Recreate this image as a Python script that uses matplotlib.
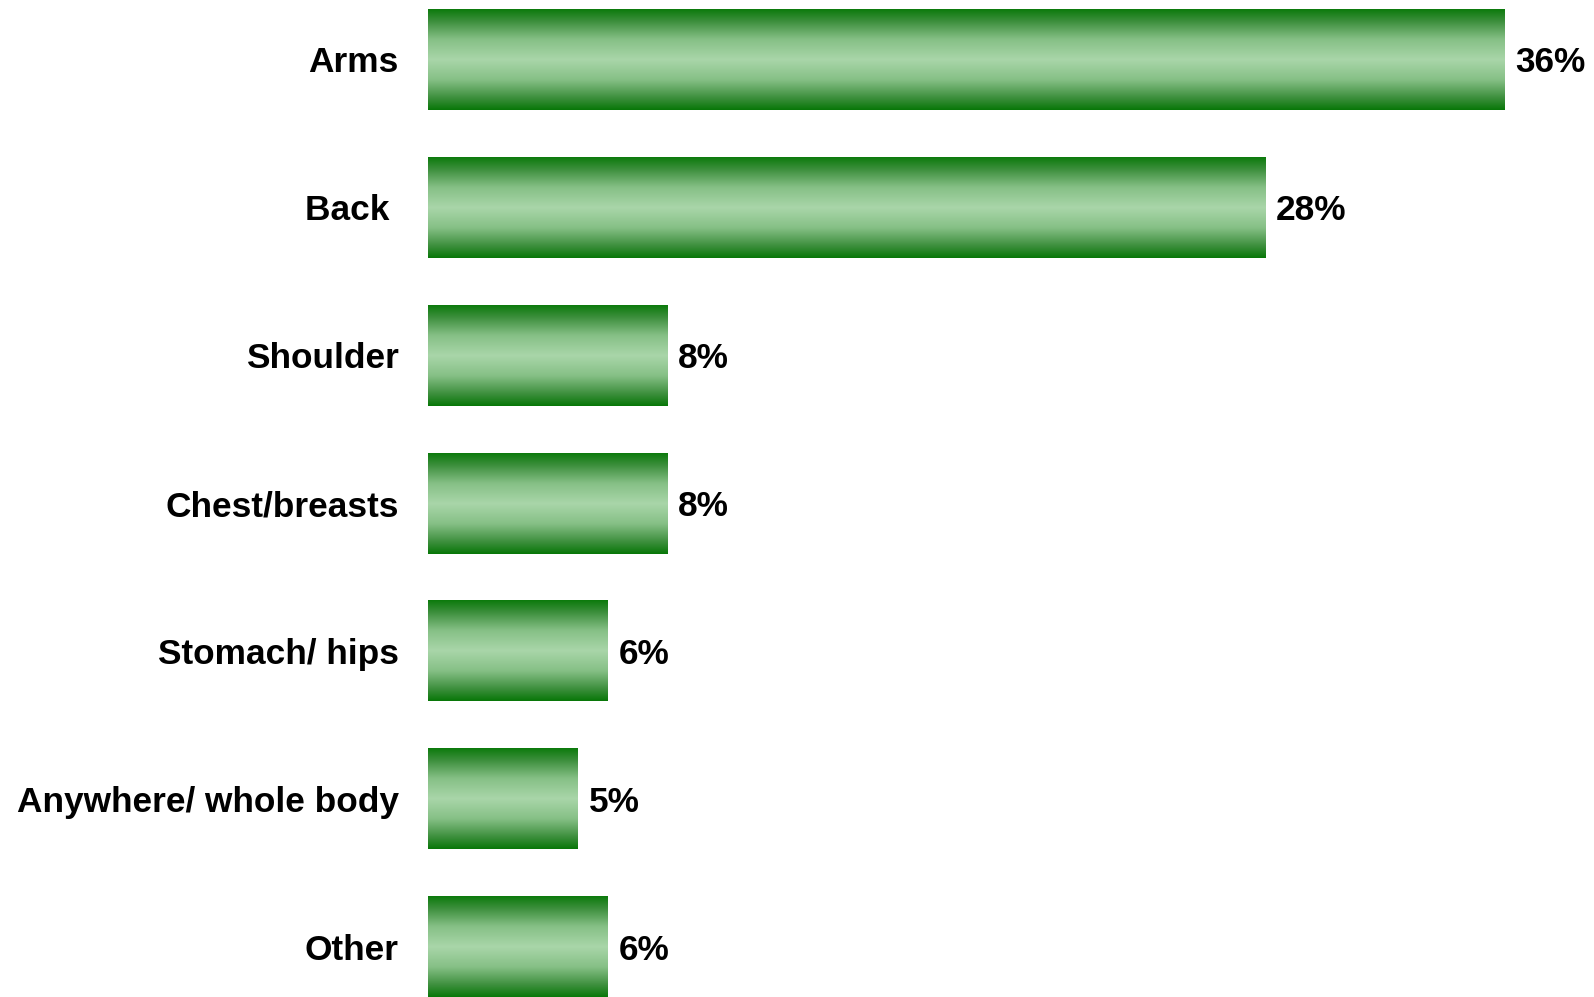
import numpy as np
import matplotlib
matplotlib.use("Agg")
import matplotlib.pyplot as plt
from matplotlib.colors import LinearSegmentedColormap

# data
categories = ["Arms", "Back ", "Shoulder", "Chest/breasts", "Stomach/ hips", "Anywhere/ whole body", "Other"]
values = [36, 28, 8, 8, 6, 5, 6]
value_labels = ["36%", "28%", "8%", "8%", "6%", "5%", "6%"]

plt.rcParams['font.family'] = ['Liberation Sans', 'DejaVu Sans']

fig = plt.figure(figsize=(15.94, 9.97), dpi=100)
ax = fig.add_axes([428 / 1594, 0, 1 - 428 / 1594, 1])

pos = np.arange(len(categories))
bars = ax.barh(pos, values, height=0.68, color="none", edgecolor="none")

# green -> light -> green gradient inside each bar
cmap = LinearSegmentedColormap.from_list("grn", [(0.0, "#0c7a0c"), (0.12, "#3d8f3d"),
                                                 (0.3, "#86c086"), (0.5, "#a9d6a9"),
                                                 (0.7, "#86c086"), (0.88, "#3d8f3d"),
                                                 (1.0, "#087708")])
grad = np.linspace(0, 1, 256).reshape(-1, 1)
for b in bars:
    x0, y0 = b.get_x(), b.get_y()
    w, h = b.get_width(), b.get_height()
    ax.imshow(grad, extent=[x0, x0 + w, y0 + h, y0], cmap=cmap, aspect="auto",
              interpolation="bilinear", zorder=2)

for i in range(len(values)):
    ax.text(values[i] + 0.37, pos[i], value_labels[i], va="center_baseline", ha="left",
            fontsize=25.4, fontweight="bold")

ax.set_yticks(pos)
ax.set_yticklabels(categories, fontsize=25.4, fontweight="bold")
ax.tick_params(axis="y", length=0, pad=21)
ax.set_xticks([])
ax.set_xlim(0, 39)
ax.set_ylim(6.338, -0.402)
for s in ax.spines.values():
    s.set_visible(False)

fig.savefig("out.png", dpi=100)
